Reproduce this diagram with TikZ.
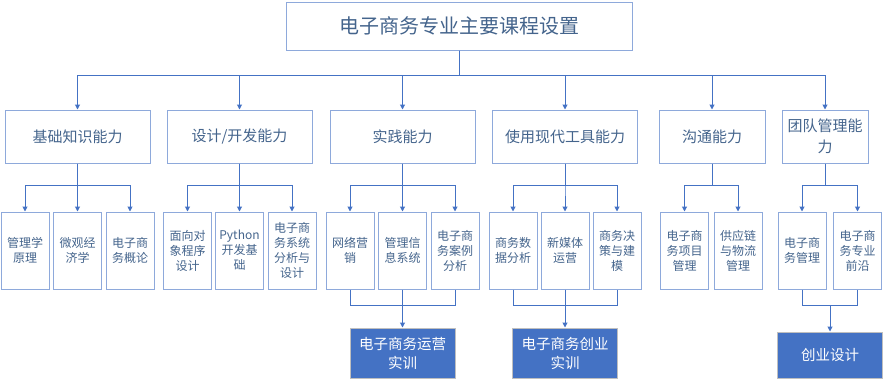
\documentclass[tikz,border=0pt]{standalone}
\usepackage{fontspec}
\setmainfont{Noto Sans CJK SC}
\usepackage{tikz}
\usetikzlibrary{arrows.meta}
\definecolor{linkblue}{HTML}{4472C4}
\definecolor{boxblue}{HTML}{8EA9DB}
\definecolor{textblue}{HTML}{44648C}

\begin{document}
\begin{tikzpicture}[x=1pt,y=-1pt,>={Triangle[width=5pt,length=5pt]},
  box/.style={draw=boxblue,line width=1pt,text=textblue,align=center,inner sep=0pt},
  topbox/.style={box,minimum width=346pt,minimum height=48pt,font=\fontsize{20}{24}\selectfont},
  abilitybox/.style={box,minimum height=53pt,font=\fontsize{15}{21}\selectfont},
  coursebox/.style={box,minimum width=48pt,minimum height=77pt,font=\fontsize{12}{15}\selectfont},
  labbox/.style={draw=black!25,line width=1pt,fill=linkblue,text=white,align=center,inner sep=0pt,
    minimum width=105pt,font=\fontsize{14.5}{19}\selectfont},
  link/.style={linkblue,line width=1pt}]
\useasboundingbox (0,0) rectangle (883,380);
\node[topbox] (top) at (459,26) {电子商务专业主要课程设置};
\foreach \n/\x/\w/\t in {a1/77.5/145/基础知识能力, a2/239.5/145/{设计/开发能力}, a3/402.5/145/实践能力,
  a4/565/145/使用现代工具能力, a5/712/106/沟通能力, a6/825/86/{团队管理能\\力}}
  \node[abilitybox,minimum width=\w pt] (\n) at (\x,136.5) {\t};
\foreach \n/\x/\t in {c11/25/{管理学\\原理}, c12/77.5/{微观经\\济学}, c13/130/{电子商\\务概论},
  c21/187.5/{面向对\\象程序\\设计}, c22/239.5/{Python\\开发基\\础}, c23/292/{电子商\\务系统\\分析与\\设计},
  c31/350/{网络营\\销}, c32/402.5/{管理信\\息系统}, c33/455/{电子商\\务案例\\分析},
  c41/513/{商务数\\据分析}, c42/565/{新媒体\\运营}, c43/617/{商务决\\策与建\\模},
  c51/684.5/{电子商\\务项目\\管理}, c52/738/{供应链\\与物流\\管理},
  c61/802/{电子商\\务管理}, c62/857.5/{电子商\\务专业\\前沿}}
  \node[coursebox] (\n) at (\x,250.5) {\t};
\node[labbox,minimum height=50pt] (d1) at (402.5,353) {电子商务运营\\实训};
\node[labbox,minimum height=50pt] (d2) at (565,353) {电子商务创业\\实训};
\node[labbox,minimum height=46pt] (d3) at (830,355) {创业设计};
\foreach \n in {a1,a2,a3,a4,a5,a6}
  \draw[link,->] (top.south) -- ++(0,25) -| (\n.north);
\foreach \p/\c in {a1/c11,a1/c12,a1/c13,a2/c21,a2/c22,a2/c23,a3/c31,a3/c32,a3/c33,
  a4/c41,a4/c42,a4/c43,a5/c51,a5/c52,a6/c61,a6/c62}
  \draw[link,->] (\p.south) -- ++(0,22) -| (\c.north);
\draw[link] (c31.south) -- ++(0,16) -| (c33.south);
\draw[link,->] (c32.south) -- (d1.north);
\draw[link] (c41.south) -- ++(0,16) -| (c43.south);
\draw[link,->] (c42.south) -- (d2.north);
\draw[link] (c61.south) -- ++(0,16) coordinate (m6) -| (c62.south);
\draw[link,->] (m6 -| d3.north) -- (d3.north);
\end{tikzpicture}
\end{document}
